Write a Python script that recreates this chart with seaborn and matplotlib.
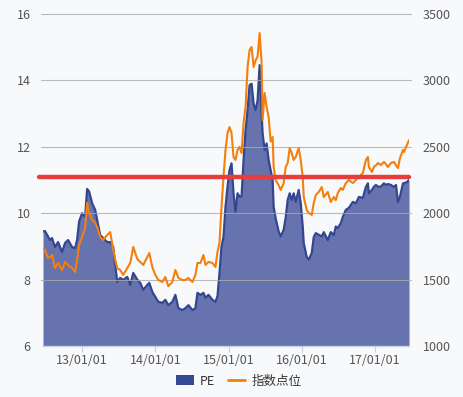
import matplotlib
matplotlib.use("Agg")
import matplotlib.pyplot as plt
import matplotlib.dates as mdates
from matplotlib.patches import FancyBboxPatch
from matplotlib.lines import Line2D
import seaborn as sns
import pandas as pd

dates = [
    "2012-06-20", "2012-06-30", "2012-07-15", "2012-07-25", "2012-08-04", "2012-08-19", "2012-09-03",
    "2012-09-23", "2012-10-08", "2012-10-23", "2012-11-12", "2012-11-27", "2012-12-07", "2012-12-17",
    "2013-01-01", "2013-01-16", "2013-01-26", "2013-02-05", "2013-02-20", "2013-03-07", "2013-03-17",
    "2013-04-01", "2013-04-16", "2013-05-06", "2013-05-21", "2013-06-05", "2013-06-15", "2013-06-25",
    "2013-07-10", "2013-07-25", "2013-08-14", "2013-08-29", "2013-09-13", "2013-10-03", "2013-10-18",
    "2013-11-02", "2013-11-22", "2013-12-02", "2013-12-17", "2014-01-01", "2014-01-16", "2014-02-05",
    "2014-02-20", "2014-03-07", "2014-03-27", "2014-04-11", "2014-04-26", "2014-05-16", "2014-05-31",
    "2014-06-15", "2014-07-05", "2014-07-20", "2014-07-30", "2014-08-14", "2014-08-29", "2014-09-08",
    "2014-09-23", "2014-10-13", "2014-10-28", "2014-11-07", "2014-11-17", "2014-11-27", "2014-12-07",
    "2014-12-17", "2014-12-27", "2015-01-06", "2015-01-16", "2015-01-26", "2015-02-05", "2015-02-15",
    "2015-02-25", "2015-03-07", "2015-03-17", "2015-03-27", "2015-04-06", "2015-04-16", "2015-04-26",
    "2015-05-06", "2015-05-16", "2015-05-26", "2015-06-05", "2015-06-15", "2015-06-20", "2015-06-30",
    "2015-07-10", "2015-07-20", "2015-07-30", "2015-08-09", "2015-08-14", "2015-08-24", "2015-09-08",
    "2015-09-18", "2015-10-03", "2015-10-13", "2015-10-23", "2015-11-02", "2015-11-12", "2015-11-22",
    "2015-12-02", "2015-12-17", "2015-12-27", "2016-01-06", "2016-01-11", "2016-01-26", "2016-02-05",
    "2016-02-20", "2016-03-01", "2016-03-11", "2016-03-26", "2016-04-10", "2016-04-20", "2016-05-10",
    "2016-05-25", "2016-06-09", "2016-06-19", "2016-06-29", "2016-07-14", "2016-07-24", "2016-08-08",
    "2016-08-23", "2016-09-12", "2016-09-27", "2016-10-12", "2016-11-01", "2016-11-16", "2016-11-26",
    "2016-12-01", "2016-12-16", "2016-12-26", "2017-01-05", "2017-01-15", "2017-01-30", "2017-02-14",
    "2017-02-24", "2017-03-06", "2017-03-21", "2017-04-05", "2017-04-15", "2017-04-25", "2017-05-05",
    "2017-05-20", "2017-05-25", "2017-06-09", "2017-06-19",
]

pe = [
    9.45, 9.46, 9.30, 9.19, 9.25, 8.98, 9.13,
    8.83, 9.10, 9.19, 8.98, 8.95, 9.20, 9.75,
    10.00, 9.89, 10.73, 10.65, 10.30, 10.10, 9.80,
    9.34, 9.25, 9.13, 9.13, 8.98, 8.44, 7.93,
    8.05, 7.99, 8.08, 7.84, 8.20, 8.00, 7.90,
    7.69, 7.84, 7.90, 7.63, 7.48, 7.33, 7.30,
    7.39, 7.23, 7.33, 7.54, 7.14, 7.08, 7.14,
    7.23, 7.08, 7.14, 7.60, 7.54, 7.60, 7.45,
    7.54, 7.39, 7.33, 7.50, 8.20, 9.00, 9.28,
    10.19, 10.80, 11.30, 11.50, 10.60, 10.04, 10.60,
    10.50, 10.50, 11.60, 12.50, 13.10, 13.86, 13.90,
    13.30, 13.10, 13.40, 14.46, 13.00, 12.40, 11.90,
    12.10, 11.60, 11.30, 11.00, 10.19, 9.85, 9.45,
    9.30, 9.50, 9.86, 10.40, 10.60, 10.40, 10.60,
    10.34, 10.70, 10.30, 9.60, 9.10, 8.68, 8.60,
    8.80, 9.28, 9.40, 9.35, 9.30, 9.43, 9.19,
    9.43, 9.34, 9.60, 9.55, 9.70, 9.89, 10.10,
    10.16, 10.34, 10.30, 10.49, 10.46, 10.79, 10.90,
    10.60, 10.70, 10.80, 10.85, 10.80, 10.80, 10.90,
    10.85, 10.88, 10.85, 10.79, 10.85, 10.34, 10.50,
    10.90, 10.90, 10.94, 11.00,
]

index_pts = [
    1730, 1723, 1663, 1670, 1685, 1587, 1625,
    1572, 1633, 1610, 1587, 1557, 1648, 1761,
    1821, 1889, 2077, 2002, 1949, 1930, 1896,
    1821, 1798, 1836, 1858, 1723, 1650, 1587,
    1572, 1535, 1587, 1625, 1746, 1655, 1633,
    1610, 1670, 1700, 1595, 1535, 1497, 1482,
    1520, 1450, 1482, 1572, 1512, 1497, 1497,
    1512, 1482, 1535, 1625, 1625, 1685, 1610,
    1633, 1625, 1595, 1708, 1780, 2047, 2273,
    2476, 2604, 2649, 2604, 2423, 2401, 2476,
    2499, 2453, 2679, 2800, 3100, 3229, 3252,
    3101, 3150, 3180, 3357, 3131, 2702, 2905,
    2800, 2724, 2540, 2574, 2350, 2250, 2210,
    2175, 2227, 2348, 2378, 2491, 2453, 2401,
    2423, 2491, 2401, 2273, 2122, 2024, 2002,
    1987, 2077, 2137, 2160, 2197, 2122, 2160,
    2084, 2122, 2099, 2152, 2190, 2175, 2227,
    2250, 2227, 2250, 2273, 2303, 2401, 2423,
    2348, 2310, 2348, 2360, 2378, 2363, 2386,
    2370, 2348, 2378, 2386, 2360, 2340, 2416,
    2476, 2461, 2514, 2551,
]

pe_ticks = [6, 8, 10, 12, 14, 16]
idx_ticks = [1000, 1500, 2000, 2500, 3000, 3500]
x_ticks = ["2013-01-01", "2014-01-01", "2015-01-01", "2016-01-01", "2017-01-01"]
x_tick_labels = ["13/01/01", "14/01/01", "15/01/01", "16/01/01", "17/01/01"]
pe_mark = 11.1
series_names = ["PE", "指数点位"]

df = pd.DataFrame({"date": pd.to_datetime(dates), "pe": pe, "idx": index_pts})

sns.set_theme(style="white")
plt.rcParams["font.family"] = ["Noto Sans CJK SC", "DejaVu Sans"]

BG = "#f8f9fb"
AREA = "#6673ae"
EDGE = "#33468f"
ORANGE = "#f47f0d"
RED = "#e53e3c"
TXT = "#555555"

fig = plt.figure(figsize=(4.64, 3.97), dpi=100, facecolor=BG)
ax = fig.add_axes([0.0927, 0.1285, 0.7888, 0.8362])
ax.set_facecolor(BG)

ax.fill_between(df["date"], pe_ticks[0], df["pe"], color=AREA, lw=0, zorder=2)
sns.lineplot(data=df, x="date", y="pe", ax=ax, color=EDGE, lw=1.6, zorder=3)

ax2 = ax.twinx()
sns.lineplot(data=df, x="date", y="idx", ax=ax2, color=ORANGE, lw=1.5, zorder=3)

ax.set_ylim(pe_ticks[0], pe_ticks[-1])
ax2.set_ylim(idx_ticks[0], idx_ticks[-1])
ax.set_xlim(df["date"].iloc[0], df["date"].iloc[-1])

ax.set_yticks(pe_ticks)
ax2.set_yticks(idx_ticks)
ax.set_xticks(pd.to_datetime(x_ticks))
ax.set_xticklabels(x_tick_labels)

for y in pe_ticks[1:]:
    ax.axhline(y, color="#aaaaaa", lw=0.8, alpha=0.8, zorder=4, clip_on=False, xmin=-0.006, xmax=1.006)

ax2.axhline(idx_ticks[0] + (pe_mark - pe_ticks[0]) * (idx_ticks[-1] - idx_ticks[0]) / (pe_ticks[-1] - pe_ticks[0]),
            color=RED, lw=3.2, zorder=6, xmin=-0.012, xmax=1.0, clip_on=False)

for a in (ax, ax2):
    a.set_xlabel("")
    a.set_ylabel("")
    for s in a.spines.values():
        s.set_visible(False)
    a.tick_params(axis="y", length=0, labelsize=9, labelcolor=TXT, pad=9)
ax.spines["bottom"].set_visible(True)
ax.spines["bottom"].set_color("#c6d0e2")
ax.spines["bottom"].set_linewidth(1.0)
ax.tick_params(axis="x", length=4, width=0.8, color="#c6d0e2", labelsize=9, labelcolor=TXT, pad=2, bottom=True)
ax2.tick_params(axis="y", pad=10)

handles = [
    FancyBboxPatch((0, 0), 1, 1, boxstyle="round,pad=0,rounding_size=0.35", facecolor="#354a96", edgecolor="none"),
    Line2D([0], [0], color=ORANGE, lw=2),
]
leg = fig.legend(handles, series_names, loc="center", bbox_to_anchor=(0.515, 0.04), ncol=2,
                 frameon=False, fontsize=9, handlelength=1.4, handleheight=0.8, columnspacing=1.0,
                 handletextpad=0.5)
for t in leg.get_texts():
    t.set_color("#333333")

fig.savefig("out.png", dpi=100, facecolor=BG)
